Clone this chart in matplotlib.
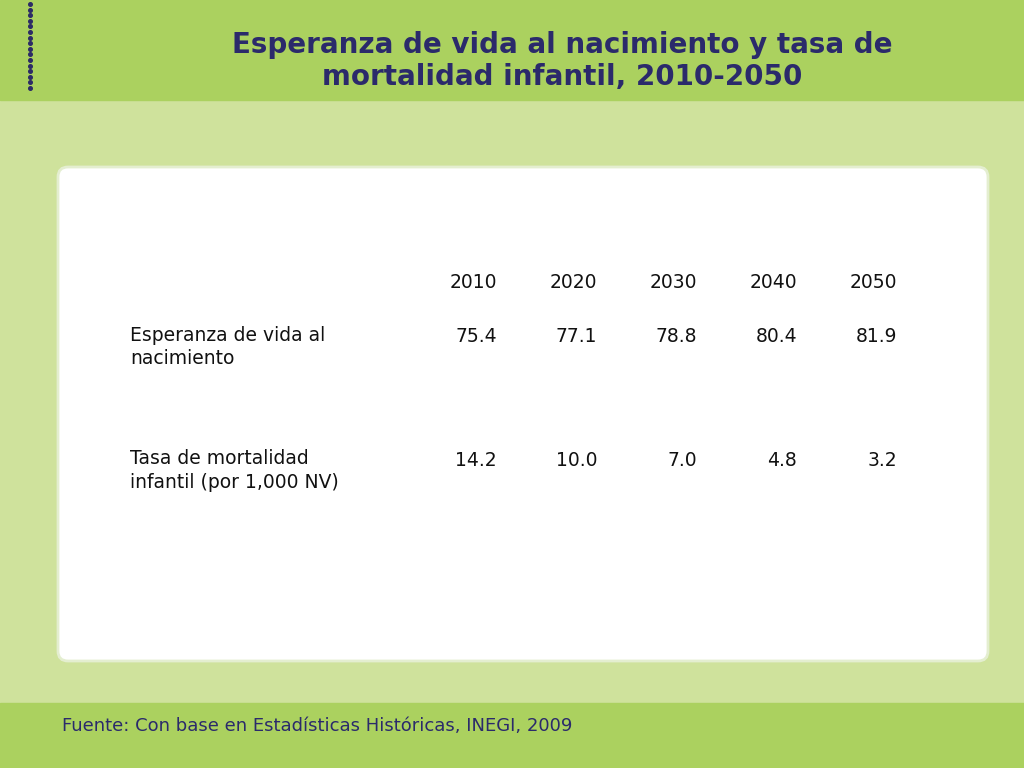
import matplotlib
matplotlib.use("Agg")
import matplotlib.pyplot as plt
from matplotlib.patches import Rectangle, FancyBboxPatch

plt.rcParams["font.family"] = "DejaVu Sans"

title = "Esperanza de vida al nacimiento y tasa de\nmortalidad infantil, 2010-2050"
years = ["2010", "2020", "2030", "2040", "2050"]
row_labels = ["Esperanza de vida al\nnacimiento", "Tasa de mortalidad\ninfantil (por 1,000 NV)"]
esperanza = [75.4, 77.1, 78.8, 80.4, 81.9]
mortalidad = [14.2, 10.0, 7.0, 4.8, 3.2]
source = "Fuente: Con base en Estadísticas Históricas, INEGI, 2009"

fig = plt.figure(figsize=(10.24, 7.68), dpi=100)
ax = fig.add_axes([0, 0, 1, 1])
ax.set_xlim(0, 1024); ax.set_ylim(768, 0); ax.axis("off")

ax.add_patch(Rectangle((0, 0), 1024, 768, color="#cfe29c"))
ax.add_patch(Rectangle((0, 0), 1024, 100, color="#abd15f"))
ax.add_patch(Rectangle((0, 703), 1024, 65, color="#abd15f"))
ax.add_patch(FancyBboxPatch((58, 167), 930, 494, boxstyle="round,pad=0,rounding_size=10",
                            fc="white", ec="#e4eed0", lw=2))
for i in range(16):
    ax.plot(30, 4 + i * 5.6, "o", ms=2.6, color="#2c2a66")

navy = "#2b2a6b"
ax.text(562, 61, title, ha="center", va="center", fontsize=20, fontweight="bold",
        color=navy, linespacing=1.15)

cols = [497, 597, 697, 797, 897]
txt = dict(fontsize=13.5, color="#111111")
for x, y in zip(cols, years):
    ax.text(x, 282, y, ha="right", va="center", **txt)
ax.text(130, 326, row_labels[0], ha="left", va="top", linespacing=1.3, **txt)
ax.text(130, 449, row_labels[1], ha="left", va="top", linespacing=1.3, **txt)
for x, v in zip(cols, esperanza):
    ax.text(x, 337, f"{v:.1f}", ha="right", va="center", **txt)
for x, v in zip(cols, mortalidad):
    ax.text(x, 460, f"{v:.1f}", ha="right", va="center", **txt)

ax.text(62, 726, source, ha="left", va="center", fontsize=13, color=navy)
fig.savefig("out.png", dpi=100)
